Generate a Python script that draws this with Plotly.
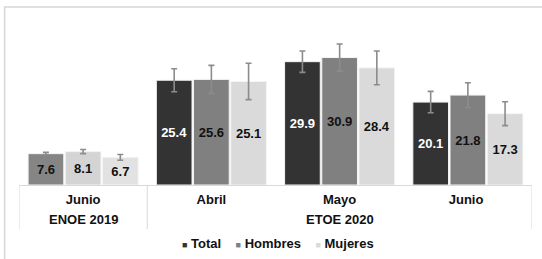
import plotly.graph_objects as go

# ---- data ----
periodos = ["ENOE 2019", "ETOE 2020", "ETOE 2020", "ETOE 2020"]
meses = ["Junio", "Abril", "Mayo", "Junio"]
total = [7.6, 25.4, 29.9, 20.1]
hombres = [8.1, 25.6, 30.9, 21.8]
mujeres = [6.7, 25.1, 28.4, 17.3]
err_total = [0.3, 2.8, 2.6, 2.6]
err_hombres = [0.5, 3.4, 3.3, 3.0]
err_mujeres = [0.7, 4.4, 4.1, 2.9]
series_names = ["Total", "Hombres", "Mujeres"]

# ---- styles ----
FONT = "Liberation Sans, Arial, sans-serif"
colors_total = ["#858585", "#333333", "#333333", "#333333"]
colors_hombres = ["#d4d4d4", "#808080", "#808080", "#808080"]
colors_mujeres = ["#e2e2e2", "#dadada", "#dadada", "#dadada"]
text_total = ["#111111", "#ffffff", "#ffffff", "#ffffff"]
text_other = ["#111111"] * 4
legend_colors = ["#333333", "#808080", "#dadada"]
AXIS_GRAY = "#d9d9d9"

# unique category keys (a repeated month gets a trailing space, not rendered)
cats = []
for m in meses:
    key = m
    while key in cats:
        key += " "
    cats.append(key)

fig = go.Figure()
for name, vals, errs, cols, tcols in [
    ("Total", total, err_total, colors_total, text_total),
    ("Hombres", hombres, err_hombres, colors_hombres, text_other),
    ("Mujeres", mujeres, err_mujeres, colors_mujeres, text_other),
]:
    fig.add_trace(go.Bar(
        name=name,
        x=cats,
        y=vals,
        marker=dict(color=cols, line=dict(color="#f4f4f4", width=1)),
        error_y=dict(type="data", array=errs, visible=True,
                     color="#8c8c8c", thickness=1.6, width=3),
        text=[f"{v:.1f}" for v in vals],
        textposition="inside",
        insidetextanchor="middle",
        textangle=0,
        insidetextfont=dict(family=FONT, size=13, color=tcols, weight="bold"),
        showlegend=False,
    ))

# period (second level) labels and dividers on the category axis
groups = []
for i, p in enumerate(periodos):
    if not groups or groups[-1][0] != p:
        groups.append([p, i, i])
    else:
        groups[-1][2] = i
div_bottom = -0.267
for p, i0, i1 in groups:
    fig.add_annotation(
        text=p, xref="x", yref="paper", x=(i0 + i1) / 2, y=-0.212,
        showarrow=False, xanchor="center", yanchor="middle",
        font=dict(family=FONT, size=13, color="#111111", weight="bold"),
    )
    fig.add_shape(type="line", xref="x", yref="paper",
                  x0=i0 - 0.5, x1=i0 - 0.5, y0=0, y1=div_bottom,
                  line=dict(color=AXIS_GRAY, width=1))
last = groups[-1][2]
fig.add_shape(type="line", xref="x", yref="paper",
              x0=last + 0.5, x1=last + 0.5, y0=0, y1=div_bottom,
              line=dict(color=AXIS_GRAY, width=1))

# legend as annotation
sep = "\u00a0" * 4
legend_text = sep.join(
    f'<span style="color:{c};font-size:9px">■</span>\u00a0{n}'
    for c, n in zip(legend_colors, series_names)
)
fig.add_annotation(
    text=legend_text, xref="paper", yref="paper",
    x=0.504, y=-0.352, showarrow=False,
    font=dict(family=FONT, size=13, color="#111111", weight="bold"),
    xanchor="center", yanchor="middle",
)

# outer frame (cropped at right/bottom)
fig.add_shape(type="rect", xref="paper", yref="paper",
              x0=-0.028, x1=1.5, y0=-1.0, y1=1.079,
              line=dict(color="#d6d6d6", width=1.5), layer="below")

fig.update_layout(
    width=542, height=259,
    margin=dict(l=19, r=9.5, t=20, b=74),
    paper_bgcolor="white", plot_bgcolor="white",
    barmode="group", bargap=0.13, bargroupgap=0.04,
    font=dict(family=FONT, size=12, color="#111111"),
    showlegend=False,
)
fig.update_xaxes(
    type="category", categoryorder="array", categoryarray=cats,
    range=[-0.5, len(cats) - 0.5],
    showline=True, linecolor=AXIS_GRAY, linewidth=1,
    tickfont=dict(family=FONT, size=13, color="#111111", weight="bold"),
    ticks="", showgrid=False, ticklabelstandoff=2,
)
fig.update_yaxes(range=[0, 40], visible=False, showgrid=False)

fig.write_html("out.html",
               config={"displayModeBar": False},
               post_script="document.body.style.margin='0';")
